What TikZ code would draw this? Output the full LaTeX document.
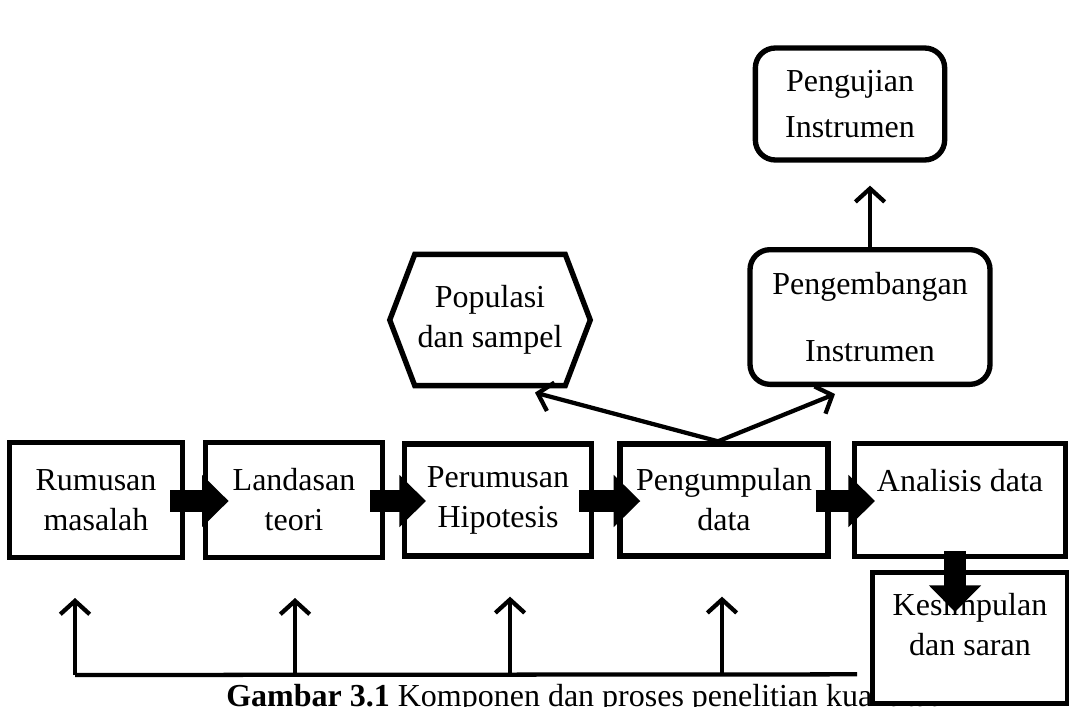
\documentclass[tikz,border=0pt]{standalone}
\usepackage{fontspec}
\setmainfont{Liberation Serif}
\usepackage{tikz}
\usetikzlibrary{positioning,arrows.meta,calc}

\begin{document}
\begin{tikzpicture}[
    x=0.75pt, y=-0.75pt,
    box/.style={draw, line width=4pt, fill=white, align=center,
                inner sep=0pt, font=\fontsize{24}{30}\selectfont},
    rbox/.style={box, rounded corners=15pt},
    blockarr/.style={line width=17pt, -{Triangle[length=20pt, width=38pt]}},
    thinarr/.style={line width=3.2pt, -{Straight Barb[length=10pt, width=22pt]}},
]
\useasboundingbox (0,0) rectangle (1069,706);

% main row
\node[box, minimum width=130pt, minimum height=86pt] (rumusan) at (96,500) {Rumusan\\masalah};
\node[box, minimum width=133pt, minimum height=86pt] (landasan) at (294,500) {Landasan\\teori};
\node[box, minimum width=140pt, minimum height=84pt] (perumusan) at (498,500) {Perumusan\\Hipotesis};
\node[box, minimum width=156pt, minimum height=84pt] (pengumpulan) at (724,500) {Pengumpulan\\data};
\node[box, minimum width=158pt, minimum height=85pt] (analisis) at (960,500) {Analisis data\\\mbox{}};

% upper part
\node[rbox, minimum width=142pt, minimum height=84pt] (pengujian) at (850,104) {Pengujian\\[4pt]Instrumen};
\node[rbox, minimum width=180pt, minimum height=101pt] (pengembangan) at (870,317) {Pengembangan\\[20pt]Instrumen};
\node[align=center, inner sep=0pt, minimum width=150pt, minimum height=98pt,
      font=\fontsize{24}{30}\selectfont] (populasi) at (490,320) {Populasi\\dan sampel};
\draw[line width=4pt, line join=miter]
    (populasi.west) -- ($(populasi.north west)+(25,0)$) -- ($(populasi.north east)+(-25,0)$)
    -- (populasi.east) -- ($(populasi.south east)+(-25,0)$) -- ($(populasi.south west)+(25,0)$)
    -- cycle;

% caption, partly covered
\node[anchor=base west, inner sep=0pt, font=\fontsize{24}{30}\selectfont] (caption) at (226,706)
    {\textbf{Gambar 3.1} Komponen dan proses penelitian kuantitatif};

\node[box, minimum width=146pt, minimum height=98pt] (kesimpulan) at (970,638) {Kesimpulan\\dan saran\\[-10pt]\mbox{}};

% block arrows
\draw[blockarr] ($(rumusan.east)+(-15,1)$) -- ($(landasan.west)+(26,1)$);
\draw[blockarr] ($(landasan.east)+(-15,1)$) -- ($(perumusan.west)+(24,1)$);
\draw[blockarr] ($(perumusan.east)+(-15,1)$) -- ($(pengumpulan.west)+(23,1)$);
\draw[blockarr] ($(pengumpulan.east)+(-15,1)$) -- ($(analisis.west)+(23,1)$);
\draw[blockarr] ($(analisis.south)+(-5,-8)$) -- ($(kesimpulan.north)+(-15,42)$);

% arrows to the top
\draw[thinarr] ($(pengumpulan.north)+(-6,0)$) -- ($(populasi.south)+(45,7)$);
\draw[thinarr] ($(pengumpulan.north)+(-6,0)$) -- ($(pengembangan.south)+(-35,7)$);
\draw[thinarr] (pengembangan.north) -- ($(pengembangan.north |- pengujian.south)+(0,23)$);

% feedback line
\coordinate (fbl) at ($(rumusan.south)+(-21,115)$);
\coordinate (fbr) at ($(analisis.south)+(-103,115)$);
\draw[line width=3.2pt] (fbl) -- (fbr);
\foreach \b/\dx in {rumusan/-21, landasan/1, perumusan/12, pengumpulan/-2}
    \draw[thinarr] ($(\b.south)+(\dx,115)$) -- ($(\b.south)+(\dx,38)$);
\end{tikzpicture}
\end{document}
